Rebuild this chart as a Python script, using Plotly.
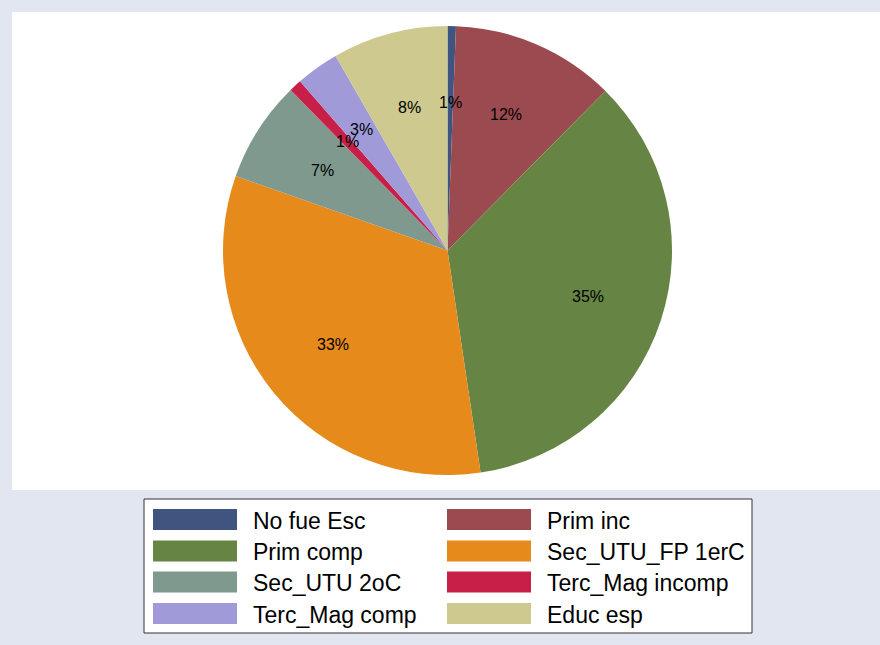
import math
import plotly.graph_objects as go

# ---- data ----
categories = ["No fue Esc", "Prim inc", "Prim comp", "Sec_UTU_FP 1erC",
              "Sec_UTU 2oC", "Terc_Mag incomp", "Terc_Mag comp", "Educ esp"]
values = [0.6, 11.8, 35.2, 32.7, 7.3, 0.9, 3.1, 8.3]
colors = ["#3f5580", "#9b4a50", "#668443", "#e68a1c",
          "#7f998f", "#c81f48", "#a09ad8", "#cec98e"]

W, H = 880, 645
CX, CY, R = 447.5, 250.5, 224.5   # pie centre / radius in pixels
LABEL_R = 0.66


def px(x):
    return x / W


def py(y):
    return 1 - y / H


fig = go.Figure()
fig.add_trace(go.Pie(
    labels=categories, values=values,
    marker=dict(colors=colors, line=dict(width=0)),
    sort=False, direction="clockwise", rotation=0,
    textinfo="none", hoverinfo="label+percent",
    showlegend=False,
    domain=dict(x=[px(CX - R), px(CX + R)], y=[py(CY + R), py(CY - R)]),
))

annotations = []
shapes = []

# white plot region
shapes.append(dict(type="rect", xref="paper", yref="paper", layer="below",
                   x0=px(12), x1=1.0, y0=py(490), y1=py(12),
                   fillcolor="white", line=dict(width=0)))

# percentage labels placed along slice bisectors
total = sum(values)
cum = 0.0
for v in values:
    mid = (cum + v / 2) / total
    cum += v
    th = 2 * math.pi * mid
    x = CX + LABEL_R * R * math.sin(th)
    y = CY - LABEL_R * R * math.cos(th)
    pct = int(v / total * 100 + 0.5)
    annotations.append(dict(x=px(x), y=py(y), xref="paper", yref="paper",
                            text=f"{pct}%", showarrow=False,
                            xanchor="center", yanchor="middle",
                            font=dict(family="Liberation Sans, Arial", size=16,
                                      color="black")))

# legend box
shapes.append(dict(type="rect", xref="paper", yref="paper",
                   x0=px(144), x1=px(752), y0=py(633), y1=py(499),
                   fillcolor="white", line=dict(color="#333333", width=1)))
col_sw = [153, 447]
sw_w, sw_h = 84, 21
row_top = [509, 540.5, 571.5, 603]
for i, (cat, col) in enumerate(zip(categories, colors)):
    r, c = divmod(i, 2)
    x0 = col_sw[c]
    y0 = row_top[r]
    shapes.append(dict(type="rect", xref="paper", yref="paper",
                       x0=px(x0), x1=px(x0 + sw_w), y0=py(y0 + sw_h), y1=py(y0),
                       fillcolor=col, line=dict(width=0)))
    annotations.append(dict(x=px(x0 + sw_w + 14), y=py(y0 + sw_h / 2 + 1),
                            xref="paper", yref="paper", text=cat,
                            showarrow=False, xanchor="left", yanchor="middle",
                            font=dict(family="Liberation Sans, Arial", size=23,
                                      color="black")))

fig.update_layout(
    width=W, height=H, autosize=False,
    margin=dict(l=0, r=0, t=0, b=0),
    paper_bgcolor="#e1e6f0",
    plot_bgcolor="#e1e6f0",
    shapes=shapes, annotations=annotations,
)

fig.write_html(
    "out.html",
    config={"displayModeBar": False},
    post_script="document.body.style.margin='0';document.body.style.overflow='hidden';",
)
